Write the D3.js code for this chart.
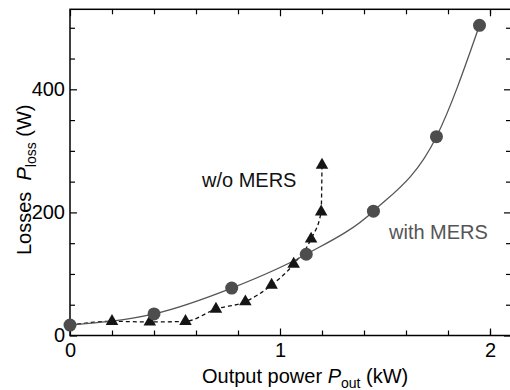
<!DOCTYPE html>
<html>
<head>
<meta charset="utf-8">
<script src="https://cdn.jsdelivr.net/npm/d3@7"></script>
<style>
  body { margin: 0; background: #fff; }
  svg { display: block; font-family: "Liberation Sans", Arial, sans-serif; }
</style>
</head>
<body>
<div id="chart"></div>
<script>
// output power (kW) and losses (W)
const withMersP = [0, 0.4, 0.77, 1.125, 1.445, 1.745, 1.95];
const withMersLoss = [17, 35, 77, 132, 202, 323, 504];
const noMersP = [0.2, 0.38, 0.55, 0.695, 0.835, 0.96, 1.065, 1.148, 1.196, 1.2];
const noMersLoss = [23, 22, 23, 43, 55, 82, 116, 157, 201, 277];

const xMajor = [0, 1, 2];
const xMinor = [0.2, 0.4, 0.6, 0.8, 1.2, 1.4, 1.6, 1.8, 2.0];
const yMajor = [0, 200, 400];
const yMinor = [50, 100, 150, 250, 300, 350, 450, 500];

const width = 510, height = 390;
const margin = { top: 9.3, right: -1, bottom: 54.5, left: 70 };

const svg = d3.select('#chart').append('svg')
    .attr('width', width)
    .attr('height', height);

const x = d3.scaleLinear()
    .domain([0, 2.1])
    .range([margin.left, width - margin.right]);
const y = d3.scaleLinear()
    .domain([0, 530])
    .range([height - margin.bottom, margin.top]);

const x0 = x.range()[0], x1 = x.range()[1];
const y0 = y.range()[0], y1 = y.range()[1];

// ticks, all pointing inwards
function ticks(axisFn, pos, vals, len, labels) {
    const g = svg.append('g')
        .attr('transform', pos)
        .call(axisFn.tickValues(vals).tickSizeInner(-len).tickSizeOuter(0)
            .tickPadding(labels ? 4 : 0)
            .tickFormat(labels ? d3.format('d') : () => ''));
    g.select('.domain').remove();
    g.selectAll('.tick line').attr('stroke', '#000').attr('stroke-width', 1.2);
    g.selectAll('.tick text')
        .attr('fill', '#000')
        .style('font-size', '20px');
    return g;
}

ticks(d3.axisBottom(x), `translate(0,${y0})`, xMajor, 7, true)
    .selectAll('.tick text').attr('dy', '0.78em').attr('y', 6);
ticks(d3.axisBottom(x), `translate(0,${y0})`, xMinor, 5, false);
ticks(d3.axisTop(x), `translate(0,${y1})`, xMajor, 7, false);
ticks(d3.axisTop(x), `translate(0,${y1})`, xMinor, 5, false);
ticks(d3.axisLeft(y), `translate(${x0},0)`, yMajor, 7, true)
    .selectAll('.tick text').attr('x', -5);
ticks(d3.axisLeft(y), `translate(${x0},0)`, yMinor, 5, false);
ticks(d3.axisRight(y), `translate(${x1},0)`, yMajor, 7, false);
ticks(d3.axisRight(y), `translate(${x1},0)`, yMinor, 5, false);

// frame
svg.append('rect')
    .attr('x', x0).attr('y', y1)
    .attr('width', x1 - x0).attr('height', y0 - y1)
    .attr('fill', 'none')
    .attr('stroke', '#000')
    .attr('stroke-width', 1.5);

const withMers = withMersP.map((p, i) => [p, withMersLoss[i]]);
const noMers = noMersP.map((p, i) => [p, noMersLoss[i]]);
const noMersLine = [withMers[0]].concat(noMers); // dashed curve starts at origin point

const line = d3.line()
    .x(d => x(d[0]))
    .y(d => y(d[1]))
    .curve(d3.curveMonotoneX);

svg.append('path')
    .datum(noMersLine)
    .attr('d', line)
    .attr('fill', 'none')
    .attr('stroke', '#111')
    .attr('stroke-width', 1.3)
    .attr('stroke-dasharray', '4,3');

svg.append('path')
    .datum(withMers)
    .attr('d', line)
    .attr('fill', 'none')
    .attr('stroke', '#555')
    .attr('stroke-width', 1.3);

svg.selectAll('.tri')
    .data(noMers)
    .enter().append('path')
    .attr('class', 'tri')
    .attr('d', d3.symbol().type(d3.symbolTriangle).size(68))
    .attr('transform', d => `translate(${x(d[0])},${y(d[1])})`)
    .attr('fill', '#151515');

svg.selectAll('.dot')
    .data(withMers)
    .enter().append('circle')
    .attr('class', 'dot')
    .attr('cx', d => x(d[0]))
    .attr('cy', d => y(d[1]))
    .attr('r', 6.5)
    .attr('fill', '#4d4d4d');

// series labels
svg.append('text')
    .attr('x', 202).attr('y', 187)
    .style('font-size', '20px')
    .attr('fill', '#111')
    .text('w/o MERS');

svg.append('text')
    .attr('x', 389).attr('y', 239)
    .style('font-size', '20px')
    .attr('fill', '#555')
    .text('with MERS');

// axis titles
const xt = svg.append('text')
    .attr('x', 202).attr('y', 383)
    .style('font-size', '20px')
    .attr('fill', '#000');
xt.append('tspan').text('Output power ');
xt.append('tspan').style('font-style', 'italic').text('P');
xt.append('tspan').attr('dy', 5).style('font-size', '14px').text('out');
xt.append('tspan').attr('dy', -5).text(' (kW)');

const yt = svg.append('text')
    .attr('transform', 'translate(31,255) rotate(-90)')
    .style('font-size', '20px')
    .attr('fill', '#000');
yt.append('tspan').text('Losses\u00a0 ');
yt.append('tspan').style('font-style', 'italic').text('P');
yt.append('tspan').attr('dy', 5).style('font-size', '14px').text('loss');
yt.append('tspan').attr('dy', -5).text(' (W)');
</script>
</body>
</html>
